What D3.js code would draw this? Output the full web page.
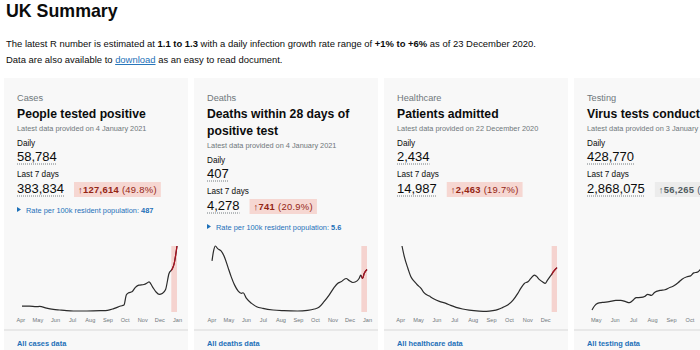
<!DOCTYPE html>
<html>
<head>
<meta charset="utf-8">
<script src="https://cdn.jsdelivr.net/npm/d3@7"></script>
<style>
  body { margin: 0; background: #fff; }
  svg { display: block; font-family: "Liberation Sans", Arial, sans-serif; }
</style>
</head>
<body>
<div id="summary"></div>
<script>
// card texts
var headlines = ["Cases", "Deaths", "Healthcare", "Testing"];
var titles = [["People tested positive"], ["Deaths within 28 days of", "positive test"], ["Patients admitted"], ["Virus tests conducted"]];
var updated = ["4 January 2021", "4 January 2021", "22 December 2020", "3 January 2021"];
var dailyValues = [58784, 407, 2434, 428770];
var weeklyValues = [383834, 4278, 14987, 2868075];
var weeklyChange = [127614, 741, 2463, 56265];
var weeklyPct = [49.8, 20.9, 19.7, 2.0];
var changeKind = ["bad", "bad", "bad", "neutral"];
var rates = [487, 5.6, null, null];
var linkLabels = ["All cases data", "All deaths data", "All healthcare data", "All testing data"];

// x axis ticks
var monthStarts = ["2020-04-01", "2020-05-01", "2020-06-01", "2020-07-01", "2020-08-01", "2020-09-01", "2020-10-01", "2020-11-01", "2020-12-01", "2021-01-01"];
var monthLabels = ["Apr", "May", "Jun", "Jul", "Aug", "Sep", "Oct", "Nov", "Dec", "Jan"];

// sparkline series (7 day averages)
var casesSeries = [
  ["2020-04-04", 5300], ["2020-04-17", 5300], ["2020-04-29", 4700], ["2020-05-05", 5000], ["2020-05-17", 3500],
  ["2020-05-29", 2400], ["2020-06-09", 1800], ["2020-06-21", 1200], ["2020-07-03", 900], ["2020-07-27", 900],
  ["2020-08-20", 1200], ["2020-09-01", 1500], ["2020-09-12", 3000], ["2020-09-24", 5300], ["2020-09-30", 6200],
  ["2020-10-04", 15100], ["2020-10-08", 17100], ["2020-10-14", 18000], ["2020-10-20", 21900], ["2020-10-26", 23900],
  ["2020-11-04", 24500], ["2020-11-10", 26000], ["2020-11-13", 26900], ["2020-11-19", 22400], ["2020-11-25", 18000],
  ["2020-12-01", 15700], ["2020-12-06", 16500], ["2020-12-12", 20100], ["2020-12-18", 34300], ["2020-12-24", 38700],
  ["2020-12-27", 43100], ["2021-01-01", 58784]
];
var deathsSeries = [
  ["2020-04-02", 770], ["2020-04-05", 930], ["2020-04-08", 995], ["2020-04-12", 955], ["2020-04-18", 920],
  ["2020-04-24", 830], ["2020-04-30", 680], ["2020-05-06", 530], ["2020-05-12", 405], ["2020-05-18", 320],
  ["2020-05-24", 280], ["2020-05-27", 290], ["2020-06-02", 205], ["2020-06-11", 130], ["2020-06-20", 80],
  ["2020-07-01", 55], ["2020-07-19", 30], ["2020-08-07", 20], ["2020-08-31", 15], ["2020-09-18", 25],
  ["2020-09-30", 45], ["2020-10-08", 70], ["2020-10-17", 155], ["2020-10-26", 255], ["2020-11-04", 370],
  ["2020-11-10", 430], ["2020-11-16", 455], ["2020-11-25", 505], ["2020-12-01", 470], ["2020-12-07", 445],
  ["2020-12-12", 455], ["2020-12-18", 505], ["2020-12-21", 555], ["2020-12-24", 505], ["2020-12-27", 580],
  ["2021-01-01", 640]
];
var healthcareSeries = [
  ["2020-04-04", 3400], ["2020-04-08", 2840], ["2020-04-14", 2240], ["2020-04-19", 1810], ["2020-04-25", 1560],
  ["2020-04-30", 1390], ["2020-05-06", 1220], ["2020-05-11", 995], ["2020-05-20", 820], ["2020-05-28", 670],
  ["2020-06-06", 545], ["2020-06-17", 445], ["2020-06-25", 340], ["2020-07-04", 240], ["2020-07-15", 155],
  ["2020-07-26", 100], ["2020-08-12", 50], ["2020-08-24", 35], ["2020-09-04", 70], ["2020-09-13", 135],
  ["2020-09-21", 240], ["2020-09-29", 360], ["2020-10-08", 615], ["2020-10-16", 960], ["2020-10-21", 1220],
  ["2020-10-27", 1470], ["2020-11-02", 1560], ["2020-11-07", 1730], ["2020-11-13", 1900], ["2020-11-16", 1850],
  ["2020-11-21", 1680], ["2020-11-27", 1540], ["2020-12-01", 1470], ["2020-12-05", 1640], ["2020-12-11", 1900],
  ["2020-12-16", 2120], ["2020-12-21", 2290]
];
var testingSeries = [
  ["2020-04-25", 16000], ["2020-04-29", 47000], ["2020-05-04", 68000], ["2020-05-12", 75000], ["2020-05-23", 81000],
  ["2020-06-03", 91000], ["2020-06-11", 91000], ["2020-06-19", 81000], ["2020-06-25", 73000], ["2020-06-30", 88000],
  ["2020-07-06", 112000], ["2020-07-14", 114000], ["2020-07-20", 122000], ["2020-07-25", 138000], ["2020-07-31", 130000],
  ["2020-08-05", 153000], ["2020-08-14", 169000], ["2020-08-22", 174000], ["2020-08-30", 192000], ["2020-09-05", 203000],
  ["2020-09-13", 231000], ["2020-09-19", 257000], ["2020-09-27", 276000], ["2020-10-03", 283000], ["2020-10-08", 307000],
  ["2020-10-14", 312000], ["2020-10-19", 333000], ["2020-10-25", 354000], ["2020-11-10", 400000], ["2020-11-25", 440000],
  ["2020-12-10", 470000], ["2020-12-25", 500000], ["2021-01-03", 517000]
];
var seriesList = [casesSeries, deathsSeries, healthcareSeries, testingSeries];
var highlightStart = ["2020-12-22", "2020-12-22", "2020-12-12", "2020-12-25"];

var width = 700, height = 350;
var parse = d3.timeParse("%Y-%m-%d");
var fmt = d3.format(",");
var monthDates = monthStarts.map(parse);

var svg = d3.select("#summary").append("svg")
  .attr("width", width)
  .attr("height", height);

// page heading
svg.append("text")
  .attr("x", 6).attr("y", 17)
  .attr("font-size", 17.8).attr("font-weight", "bold").attr("fill", "#0b0c0c")
  .text("UK Summary");

var p1 = svg.append("text").attr("x", 6).attr("y", 47).attr("font-size", 9.45).attr("fill", "#0b0c0c");
p1.append("tspan").text("The latest R number is estimated at ");
p1.append("tspan").attr("font-weight", "bold").text("1.1 to 1.3");
p1.append("tspan").text(" with a daily infection growth rate range of ");
p1.append("tspan").attr("font-weight", "bold").text("+1% to +6%");
p1.append("tspan").text(" as of 23 December 2020.");

var p2 = svg.append("text").attr("x", 6).attr("y", 63).attr("font-size", 9.45).attr("fill", "#0b0c0c");
p2.append("tspan").text("Data are also available to ");
p2.append("tspan").attr("fill", "#1d70b8").attr("text-decoration", "underline").text("download");
p2.append("tspan").text(" as an easy to read document.");

// cards
var cardW = 184, cardTop = 78;

headlines.forEach(function(h, i) {
  var cx = 4 + i * 190;
  var g = svg.append("g").attr("transform", "translate(" + cx + ",0)");

  g.append("rect")
    .attr("x", 0).attr("y", cardTop)
    .attr("width", cardW).attr("height", height - cardTop + 10)
    .attr("fill", "#f8f8f8");

  g.append("text").attr("x", 13).attr("y", 101)
    .attr("font-size", 9.2).attr("fill", "#6f777b").text(h);

  titles[i].forEach(function(t, j) {
    g.append("text").attr("x", 13).attr("y", 118 + j * 17)
      .attr("font-size", 12.2).attr("font-weight", "bold").attr("fill", "#0b0c0c").text(t);
  });
  var off = (titles[i].length - 1) * 17;

  g.append("text").attr("x", 13).attr("y", 131 + off)
    .attr("font-size", 7.35).attr("fill", "#6f777b")
    .text("Latest data provided on " + updated[i]);

  g.append("text").attr("x", 13).attr("y", 146 + off)
    .attr("font-size", 8.2).attr("fill", "#0b0c0c").text("Daily");

  var dailyText = g.append("text").attr("x", 13).attr("y", 161 + off)
    .attr("font-size", 13).attr("fill", "#0b0c0c").text(fmt(dailyValues[i]));
  var dw = dailyText.node().getComputedTextLength();
  g.append("line")
    .attr("x1", 13).attr("x2", 13 + dw)
    .attr("y1", 164 + off).attr("y2", 164 + off)
    .attr("stroke", "#505a5f").attr("stroke-width", 0.8).attr("stroke-dasharray", "1,1");

  g.append("text").attr("x", 13).attr("y", 177 + off)
    .attr("font-size", 8.2).attr("fill", "#0b0c0c").text("Last 7 days");

  var weekText = g.append("text").attr("x", 13).attr("y", 193 + off)
    .attr("font-size", 13).attr("fill", "#0b0c0c").text(fmt(weeklyValues[i]));
  var ww = weekText.node().getComputedTextLength();
  g.append("line")
    .attr("x1", 13).attr("x2", 13 + ww)
    .attr("y1", 196 + off).attr("y2", 196 + off)
    .attr("stroke", "#505a5f").attr("stroke-width", 0.8).attr("stroke-dasharray", "1,1");

  // change badge
  var bad = changeKind[i] === "bad";
  var bx = 13 + ww + 10;
  var badge = g.append("g");
  var bRect = badge.append("rect")
    .attr("x", bx).attr("y", 182 + off).attr("height", 15)
    .attr("fill", bad ? "#f6d7d2" : "#ececec");
  var bText = badge.append("text").attr("x", bx + 4).attr("y", 193 + off)
    .attr("font-size", 9.4).attr("letter-spacing", 0.3).attr("fill", bad ? "#942514" : "#505a5f");
  bText.append("tspan").text("\u2191");
  bText.append("tspan").attr("font-weight", "bold").text(fmt(weeklyChange[i]));
  bText.append("tspan").text(" (" + weeklyPct[i].toFixed(1) + "%)");
  bRect.attr("width", bText.node().getComputedTextLength() + 8);

  if (rates[i] !== null) {
    g.append("path")
      .attr("d", "M13," + (207 + off) + "L17," + (209.5 + off) + "L13," + (212 + off) + "Z")
      .attr("fill", "#1d70b8");
    var rt = g.append("text").attr("x", 22).attr("y", 212.5 + off)
      .attr("font-size", 7.4).attr("fill", "#1d70b8");
    rt.append("tspan").text("Rate per 100k resident population: ");
    rt.append("tspan").attr("font-weight", "bold").text(rates[i]);
  }

  // sparkline
  var data = seriesList[i].map(function(d) { return { date: parse(d[0]), value: d[1] }; });
  var x = d3.scaleTime()
    .domain(d3.extent(data, function(d) { return d.date; }))
    .range([18, 173]);
  var y = d3.scaleLinear()
    .domain([0, d3.max(data, function(d) { return d.value; })])
    .range([312, 246]);

  var hl = parse(highlightStart[i]);
  var last = x.domain()[1];
  g.append("rect")
    .attr("x", x(hl)).attr("y", y.range()[1])
    .attr("width", x(last) - x(hl)).attr("height", y.range()[0] - y.range()[1])
    .attr("fill", "#f5d3cf");

  var line = d3.line()
    .x(function(d) { return x(d.date); })
    .y(function(d) { return y(d.value); })
    .curve(d3.curveMonotoneX);

  g.append("path").datum(data)
    .attr("d", line)
    .attr("fill", "none").attr("stroke", "#2b2b2b").attr("stroke-width", 1.2);

  var clipId = "recent" + i;
  g.append("clipPath").attr("id", clipId)
    .append("rect")
      .attr("x", x(hl)).attr("y", 230)
      .attr("width", x(last) - x(hl) + 3).attr("height", 90);
  g.append("path").datum(data)
    .attr("d", line)
    .attr("clip-path", "url(#" + clipId + ")")
    .attr("fill", "none").attr("stroke", "#b10e1e").attr("stroke-width", 1.2);

  var lo = d3.timeDay.offset(x.domain()[0], -7), hi = d3.timeDay.offset(last, 7);
  var ticks = monthDates.filter(function(d) { return d >= lo && d <= hi; });
  var axis = g.append("g")
    .attr("transform", "translate(0,315)")
    .call(d3.axisBottom(x)
      .tickValues(ticks)
      .tickSize(0)
      .tickPadding(3)
      .tickFormat(function(d) {
        return monthLabels[monthDates.findIndex(function(m) { return +m === +d; })];
      }));
  axis.select(".domain").remove();
  axis.selectAll("text")
    .attr("font-size", 5.6).attr("fill", "#6f777b")
    .attr("font-family", "Liberation Sans, Arial, sans-serif");

  // footer
  g.append("line")
    .attr("x1", 0).attr("x2", cardW)
    .attr("y1", 330).attr("y2", 330)
    .attr("stroke", "#e3e3e3").attr("stroke-width", 1.5);
  g.append("text").attr("x", 13).attr("y", 346)
    .attr("font-size", 7.4).attr("font-weight", "bold").attr("fill", "#1d70b8")
    .text(linkLabels[i]);
});
</script>
</body>
</html>
